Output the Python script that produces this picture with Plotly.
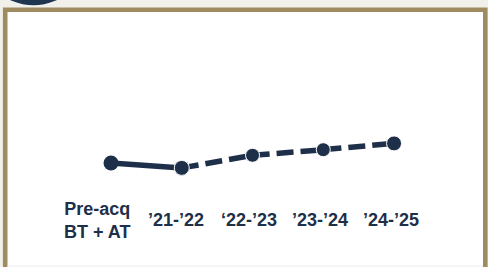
import plotly.graph_objects as go

# ---- data ----
categories = ["Pre-acq<br>BT + AT", "’21-’22", "‘22-’23", "’23-’24", "’24-’25"]
values = [10.0, 9.3, 11.1, 11.9, 12.8]
actual_idx = [0, 1]          # solid segment
forecast_idx = [1, 2, 3, 4]  # dashed segment

NAVY = "#1e3049"
TAN = "#a08a60"
BG = "#f1f0eb"
W, H = 488, 267

x_pos = list(range(len(categories)))

fig = go.Figure()

fig.add_trace(go.Scatter(
    x=[x_pos[i] for i in actual_idx], y=[values[i] for i in actual_idx],
    mode="lines+markers",
    line=dict(color=NAVY, width=5.5),
    marker=dict(color=NAVY, size=15, opacity=1),
    hoverinfo="skip", showlegend=False,
))
fig.add_trace(go.Scatter(
    x=[x_pos[i] for i in forecast_idx], y=[values[i] for i in forecast_idx],
    mode="lines+markers",
    line=dict(color=NAVY, width=5.5, dash="17px,7px"),
    marker=dict(color=NAVY, size=[15, 14, 14, 15], opacity=1),
    hoverinfo="skip", showlegend=False,
))

# category labels
label_shift = [-14, -6, -4, -3, -3]
for i, lab in enumerate(categories):
    fig.add_annotation(
        x=x_pos[i], y=1 - 220 / H, xref="x", yref="paper",
        text=f"<b>{lab}</b>", showarrow=False,
        xanchor="center", yanchor="middle", align="center",
        xshift=label_shift[i],
        font=dict(family="Liberation Sans, Arial, sans-serif", size=18, color=NAVY),
    )

def px_x(p):
    return p / W

def px_y(p):
    return 1 - p / H

shapes = [
    # white panel with tan border
    dict(type="rect", xref="paper", yref="paper",
         x0=px_x(5.2), x1=px_x(485.3), y0=px_y(300), y1=px_y(9.8),
         line=dict(color=TAN, width=4.6), fillcolor="white", layer="below"),
    # faint bottom line
    dict(type="line", xref="paper", yref="paper",
         x0=px_x(7.5), x1=px_x(483), y0=px_y(266), y1=px_y(266),
         line=dict(color="#ececec", width=1), layer="below"),
    # dark badge circle at top-left (cut off)
    dict(type="circle", xref="paper", yref="paper",
         x0=px_x(33.5 - 55), x1=px_x(33.5 + 55), y0=px_y(5.3), y1=px_y(5.3 - 110),
         line=dict(width=0), fillcolor="#1f3650", layer="below"),
]

fig.update_layout(
    width=W, height=H,
    margin=dict(l=0, r=0, t=0, b=0),
    paper_bgcolor=BG, plot_bgcolor="rgba(0,0,0,0)",
    shapes=shapes,
    xaxis=dict(range=[-1.569, 5.328], visible=False, fixedrange=True),
    yaxis=dict(range=[-4.86, 33.29], visible=False, fixedrange=True),
)

fig.write_html(
    "out.html",
    config={"displayModeBar": False},
    post_script="document.body.style.margin='0';document.body.style.overflow='hidden';",
)
